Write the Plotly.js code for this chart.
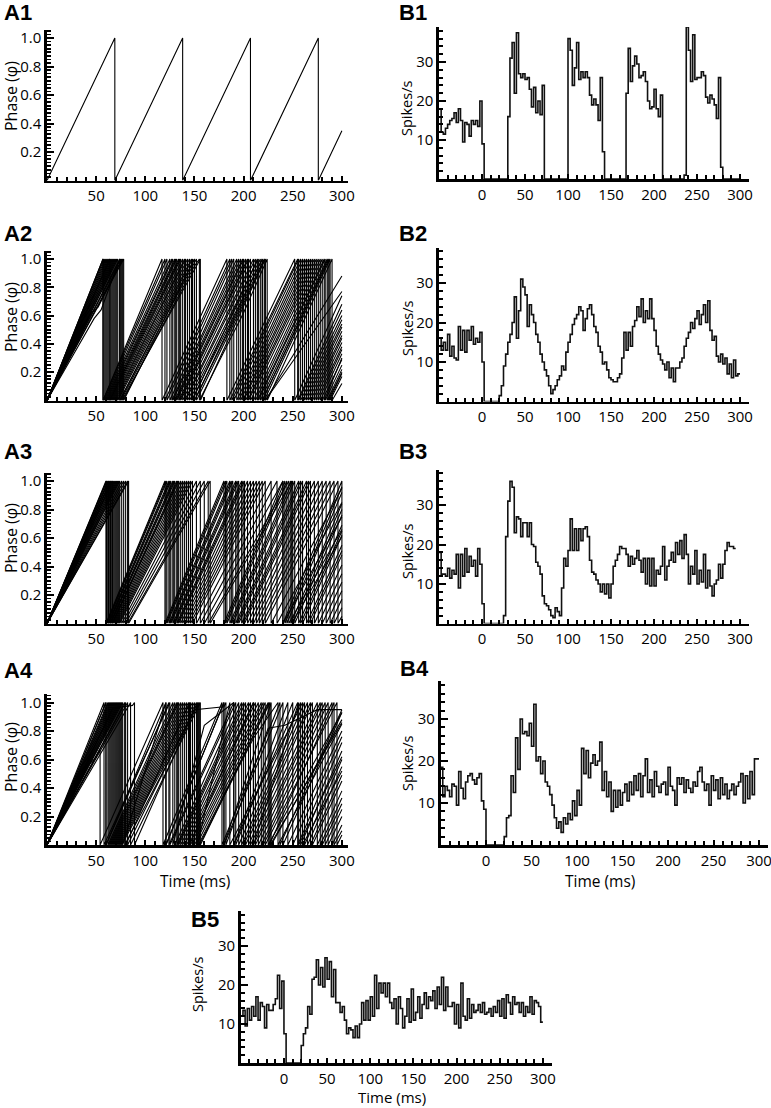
<!DOCTYPE html>
<html><head><meta charset="utf-8">
<script src="https://cdn.plot.ly/plotly-3.0.1.min.js"></script>
<style>html,body{margin:0;padding:0;background:#fff}#chart{width:771px;height:1108px}</style>
</head><body><div id="chart"></div>
<script>
// ---------------- DATA ----------------
// Phase traces: a number = time (ms) where phase reaches 1 and resets to 0;
// a pair [t, phase] = an intermediate/final point of the trace. Every trace starts at (0, 0).
const phaseA1 = [[69, 138, 207, 276, [300, 0.35]]];

const phaseA2 = [
 [57, 117, 183, 252, [300, 0.74]],
 [57, 120, 186, 255, [300, 0.68]],
 [58, 122, 188, 256, [300, 0.64]],
 [59, 125, 190, 258, [300, 0.6]],
 [60, 127, 193, 260, [300, 0.57]],
 [61, 128, 195, 262, [300, 0.54]],
 [62, 130, 197, 264, [300, 0.52]],
 [63, 131, 199, 266, [300, 0.49]],
 [64, 132, 200, 268, [300, 0.46]],
 [64, 134, 202, 270, [300, 0.44]],
 [65, 135, 204, 272, [300, 0.41]],
 [66, 136, 205, 274, [300, 0.38]],
 [67, 138, 207, 276, [300, 0.36]],
 [68, 140, 210, 278, [300, 0.33]],
 [69, 141, 212, 280, [300, 0.29]],
 [70, 143, 215, 283, [300, 0.25]],
 [71, 145, 217, 285, [300, 0.22]],
 [72, 147, 219, 287, [300, 0.19]],
 [74, 150, 221, 288, [300, 0.17]],
 [75, 152, 222, [300, 0.88]],
 [77, [150, 0.95], 155, [200, 0.62], 224, 290, [300, 0.12]],
 [78, 150, 219, 286, [300, 0.2]],
 [[45, 0.62], [52, 0.66], 76, 156, 222, [300, 0.77]],
 [[48, 0.58], [55, 0.64], 74, 148, 214, 282, [300, 0.3]]
];

const phaseA3 = [
 [60, 120, 180, 240, 300],
 [60.5, 121, 181.5, 242, [300, 0.96]],
 [61, 122, 183, 244, [300, 0.92]],
 [62, 124, 186, 248, [300, 0.84]],
 [62.5, 125, 187.5, 250, [300, 0.8]],
 [63, 126, 189, 252, [300, 0.76]],
 [64, 128, 192, 256, [300, 0.69]],
 [64.5, 129, 193.5, 258, [300, 0.65]],
 [65, 130, 195, 260, [300, 0.62]],
 [66, 132, 198, 264, [300, 0.55]],
 [66.5, 133, 199.5, 266, [300, 0.51]],
 [67, 134, 201, 268, [300, 0.48]],
 [68, 136, 204, 272, [300, 0.41]],
 [69, 138, 207, 276, [300, 0.35]],
 [70, 140, 210, 280, [300, 0.29]],
 [71, 142, 213, 284, [300, 0.23]],
 [72, 144, 216, 288, [300, 0.17]],
 [73, 146, 219, 292, [300, 0.11]],
 [74, 148, 222, 296, [300, 0.05]],
 [76, 152, 228, [300, 0.95]],
 [78, 156, 234, [300, 0.85]],
 [80, 160, 240, [300, 0.75]],
 [82, 164, 246, [300, 0.66]],
 [83, 166, 249, [300, 0.61]]
];

const phaseA4 = [
 [[54, 0.67], [54, 0], 118, 178, 237, [300, 0.95]],
 [60, 121, 180, 240, [300, 0.93]],
 [62, 128, [160, 0.84], 190, 255, [300, 0.72]],
 [63, 130, 195, 258, [300, 0.66]],
 [64, 132, 198, 262, [300, 0.6]],
 [65, 133, 200, 265, [300, 0.55]],
 [66, 134, 202, 268, [300, 0.49]],
 [67, 136, 205, 270, [300, 0.45]],
 [68, 138, 207, 275, [300, 0.38]],
 [69, 140, 210, 278, [300, 0.33]],
 [70, 142, 212, 280, [300, 0.29]],
 [71, 144, 215, 283, [300, 0.25]],
 [72, 146, 218, 286, [300, 0.2]],
 [73, 148, 220, 290, [300, 0.14]],
 [74, 150, 222, 295, [300, 0.07]],
 [75, 152, 225, [300, 0.93]],
 [76, 154, 227, [300, 0.86]],
 [[67, 0.96], [87, 0.98], 89, [150, 0.95], [180, 0.97], 182, [225, 0.82], [242, 0.84], [275, 0.95], [300, 0.95]],
 [77, 121, 180, 228, [300, 0.88]],
 [80, 145, 210, 256, [300, 0.62]],
 [82, 153, 186, 260, [300, 0.52]],
 [85, 156, 226, 292, [300, 0.1]],
 [58, 125, 192, 250, [300, 0.76]],
 [60, 124, 190, 245, [300, 0.8]],
 [[40, 0.55], [48, 0.6], 79, 155, [210, 0.75], 235, [300, 0.85]]
];

// Histograms (spikes/s), 2.5 ms bins starting at -50 ms
const binStart = -50;
const binWidth = 2.5;
const rateB1 = [18,12,11.5,13,14,15,15.5,17,14.5,18,15,9.5,14.5,14,11,15,14,15,13.5,20,
 9, 0,0,0,0,0,0,0,0,0,0,0,
 16,31,35,22,37.5,27,26,27,25.5,26,23,18.5,23.5,17,20,16.5,24,
 0,0,0,0,0,0,0,0,0,0,0,
 36,33,24,28.5,35,25.5,27.5,26,27.5,26,21.5,19,20.5,19,15,26,7,
 0,0,0,0,0,0,0,0,0,0,
 22,33.5,25,29,31.5,29.5,26,26.5,27.5,25,20,18,18.5,23,18,16,21.5,
 0,0,0,0,0,0,0,0,0,0,
 1,39,33,25,37,25.5,26,26,27.5,26.5,21,19.5,21.5,20.5,19,15.5,26,3,
 0,0,0,0,0,0,0,0];
const rateB2 = [16,13,15,13,17,11.5,14,11,10.5,19,13,18,12.5,18,15.5,19,14.5,16,15,17.5,
 10, 0,0,0,0,0,0,0,
 1.5,4,9,12,15,17,20,26.5,16,23,31,29,27,19,24.5,22,20,17,15,12,10,8,6.5,4,2,
 3,4,5.5,6.5,9,8,12.5,15,17,19.5,21,22,24,23,18,21,23.5,24.5,22,19,17.5,14,12.5,9.5,10,8,6,5.5,5,5,6,7,
 11,17.5,13,17.5,14,19,20.5,24,21.5,26,20,23,21,26,21,18,14,12,10.5,9.5,8,10,6,8.5,5,8.5,8.5,10,
 11,14,16,17.5,20,18.5,21,23,19.5,22,24.5,20,25.5,18,15.5,16.5,11.5,10,12,9.5,11,7,9.5,6,10.5,6.5,7];
const rateB3 = [18,12.5,12.5,12,14,11.5,13.5,12.5,17.5,9,17.5,12,19,13,17,14.5,16,12,19,15,
 5, 0,0,0,0,0,0,0,0,0,
 2,22,31,36,34.5,23,27,26.5,22,25.5,25.5,22,25.5,20,19.5,15.5,14.5,12.5,7,5,
 4.5,3.5,2,1.5,4,3,2,9,16.5,14.5,18.5,26.5,18.5,24,18.5,24,21,24,24.5,22,
 16,13,12.5,11,10,8,10,7.5,10,6.5,10,
 14.5,16,17.5,19.5,19,19,17.5,14.5,17,15,16.5,18.5,16,13,16.5,10,16.5,9.5,16.5,9.5,
 13.5,12.5,14.5,19.5,11,14.5,16,18,15.5,20.5,17.5,21,16.5,22.5,17.5,10,14.5,12.5,18.5,10,
 13.5,10.5,17.5,9,13.5,9.5,7,10,11,15,11.5,15,18.5,20.5,19.5,19.5,19];
const rateB4 = [18.5,11.5,14,13,11.5,14.5,14,9.5,17.5,13.5,11,15,16.5,17,15.5,14.5,16,17,10.5,8.5,
 0,0,0,0,0,0,0,0,
 2,6.5,7,16.5,12.5,25.5,18,30,26.5,27,26,29,23.5,33.5,20,21,17,20,15,14,
 12,9.5,6.5,4,5.5,3,6.5,5,7.5,6,10.5,7,13,9.5,23,17,22.5,16,19.5,21.5,
 19,20,24.5,13,17.5,11.5,15,8,13,9,13,9.5,12.5,14.5,10.5,15,12,16.5,13,17,
 11.5,16.5,20.5,12.5,15.5,11.5,17.5,14,12.5,14.5,15,12,18.5,14,13,9.5,16,14.5,16,12.5,
 15.5,13.5,12.5,15,14,17.5,18.5,15,13,14.5,9.5,16.5,13,15.5,11,16,12,14.5,11,13,
 14.5,12,14,15,17,10,16.5,11,17.5,12,20.5,20.5];
const rateB5 = [12,13.5,9.5,14,11,14.5,12,17,11,15.5,14.5,9,15,13.5,13.5,15,16.5,22.5,14,21,
 7.5, 0,0,0,0,0,0,0,
 4.5,7.5,9,14.5,12.5,21.5,22,26.5,20,24.5,19.5,27,21.5,26,17,24,15.5,15.5,13,14.5,
 11,7.5,9,8.5,6.5,9.5,6.5,10,15.5,11,16,11,17,12,22.5,14,20.5,18,20.5,17,
 20.5,15.5,14,16.5,10,17,14,9,12,16.5,10.5,19,11,13,17,11.5,15,18,14,17,
 16,18.5,14,19.5,15,22,13.5,19.5,14.5,14.5,15.5,10,15,9,20.5,12,11,16.5,11.5,15,
 13,13.5,15,13,15.5,12.5,13,14,12,14.5,13,16,12,16.5,11.5,17.5,15.5,12.5,17,15,
 15.5,13,15.5,12,14.5,13,17,12.5,16,15.5,14.5,10.5];

const phaseTicks = [0.2, 0.4, 0.6, 0.8, 1.0];
const phaseTimeTicks = [50, 100, 150, 200, 250, 300];
const rateTicks = [10, 20, 30];
const rateTimeTicks = [0, 50, 100, 150, 200, 250, 300];

// ---------------- LAYOUT GEOMETRY (pixels) ----------------
const W = 771, H = 1108;
const panels = [
 {label:'A1', kind:'A', x0:47, x1:347.8, yb:180.5, yt:29.5, lx:18, ly:13, ty:96},
 {label:'A2', kind:'A', x0:47, x1:347.8, yb:400.5, yt:250.5, lx:18, ly:233, ty:317},
 {label:'A3', kind:'A', x0:47, x1:347.8, yb:623.5, yt:472.5, lx:18, ly:451, ty:538},
 {label:'A4', kind:'A', x0:47, x1:347.8, yb:845, yt:694, lx:18, ly:671, ty:757},
 {label:'B1', kind:'B', x0:439, x1:748.6, yb:179, yt:26.9, lx:413, ly:13, ty:109, tx:407},
 {label:'B2', kind:'B', x0:439, x1:748.6, yb:401.5, yt:247.5, lx:413, ly:233, ty:329, tx:407},
 {label:'B3', kind:'B', x0:439, x1:748.6, yb:623.5, yt:469.5, lx:413, ly:451, ty:552, tx:407},
 {label:'B4', kind:'B', x0:440.5, x1:768.1, yb:845, yt:681.2, lx:414, ly:668, ty:764, tx:407},
 {label:'B5', kind:'B', x0:240.8, x1:551.5, yb:1063, yt:911, lx:205, ly:919, ty:984, tx:197}
];

const phaseData = [phaseA1, phaseA2, phaseA3, phaseA4];
const rateData = [rateB1, rateB2, rateB3, rateB4, rateB5];

function phaseLine(traces){
  const x = [], y = [];
  traces.forEach(steps => {
    x.push(0); y.push(0);
    steps.forEach(s => {
      if (Array.isArray(s)) { x.push(s[0]); y.push(s[1]); }
      else { x.push(s, s); y.push(1, 0); }
    });
    x.push(null); y.push(null);
  });
  return {x, y};
}
function histLine(vals){
  const x = vals.map((v, i) => binStart + i * binWidth);
  x.push(binStart + vals.length * binWidth);
  const y = vals.slice(); y.push(vals[vals.length - 1]);
  return {x, y};
}

const FAM = 'Open Sans, sans-serif';
const tickFont = {family:FAM, size:15, color:'#000'};
const labelFont = {family:'Liberation Sans, Arial, sans-serif', size:22, color:'#000'};

const layout = {
  width: W, height: H,
  margin: {l:0, r:0, t:0, b:0},
  paper_bgcolor: '#fff', plot_bgcolor: 'rgba(0,0,0,0)',
  showlegend: false,
  hovermode: false,
  annotations: []
};
const data = [];

panels.forEach((p, i) => {
  const n = i + 1;
  const xk = n === 1 ? 'xaxis' : 'xaxis' + n;
  const yk = n === 1 ? 'yaxis' : 'yaxis' + n;
  const xr = n === 1 ? 'x' : 'x' + n;
  const yr = n === 1 ? 'y' : 'y' + n;
  const isA = p.kind === 'A';
  const common = {
    showline: true, linewidth: 2.6, linecolor: '#000', mirror: false,
    showgrid: false, zeroline: false, ticks: 'inside', tickcolor: '#000',
    tickwidth: 2, tickfont: tickFont, fixedrange: true, tickmode: 'array',
    ticklabeloverflow: 'allow'
  };
  layout[xk] = Object.assign({}, common, {
    domain: [p.x0 / W, p.x1 / W], anchor: yr,
    range: isA ? [0, 306] : [-50, 310],
    tickvals: isA ? phaseTimeTicks : rateTimeTicks,
    ticklen: 5,
    minor: {tickmode:'linear', tick0: isA ? 0 : -50, dtick: 10, ticks:'inside', ticklen: 4, tickwidth: 2, tickcolor:'#000', showgrid:false}
  });
  layout[yk] = Object.assign({}, common, {
    domain: [1 - p.yb / H, 1 - p.yt / H], anchor: xr,
    range: isA ? [0, 1.06] : [0, 39],
    tickvals: isA ? phaseTicks : rateTicks,
    tickformat: isA ? '.1f' : 'd',
    ticklen: 7,
    minor: {tickmode:'linear', tick0: 0, dtick: isA ? 0.025 : 2, ticks:'inside', ticklen: 4, tickwidth: isA ? 1.6 : 2, tickcolor:'#000', showgrid:false}
  });

  const line = isA ? phaseLine(phaseData[i]) : histLine(rateData[i - 4]);
  data.push({
    type: 'scatter', mode: 'lines', x: line.x, y: line.y,
    xaxis: xr, yaxis: yr, connectgaps: false,
    line: isA ? {color:'#000', width:1.1} : {color:'#111', width:1.6, shape:'hv'},
    hoverinfo: 'skip'
  });

  layout.annotations.push({
    text: '<b>' + p.label + '</b>', xref:'paper', yref:'paper',
    x: p.lx / W, y: 1 - p.ly / H, xanchor:'center', yanchor:'middle',
    showarrow:false, font: labelFont
  });
  layout.annotations.push({
    text: isA ? 'Phase (φ)' : 'Spikes/s', xref:'paper', yref:'paper',
    x: (isA ? 11 : p.tx) / W, y: 1 - p.ty / H, xanchor:'center', yanchor:'middle',
    textangle: -90, showarrow:false,
    font: {family:FAM, size: isA ? 16 : 14.5, color:'#000'}
  });
});

// x-axis titles
[[195, 881, 'middle', 15.5], [600, 881, 'middle', 15.5], [392, 1108, 'bottom', 15]].forEach(pos => {
  layout.annotations.push({
    text: 'Time (ms)', xref:'paper', yref:'paper',
    x: pos[0] / W, y: 1 - pos[1] / H, xanchor:'center', yanchor: pos[2],
    showarrow:false, borderpad:0, font: {family:FAM, size:pos[3], color:'#000'}
  });
});

Plotly.newPlot('chart', data, layout, {staticPlot: true, displayModeBar: false});
</script>
</body></html>
